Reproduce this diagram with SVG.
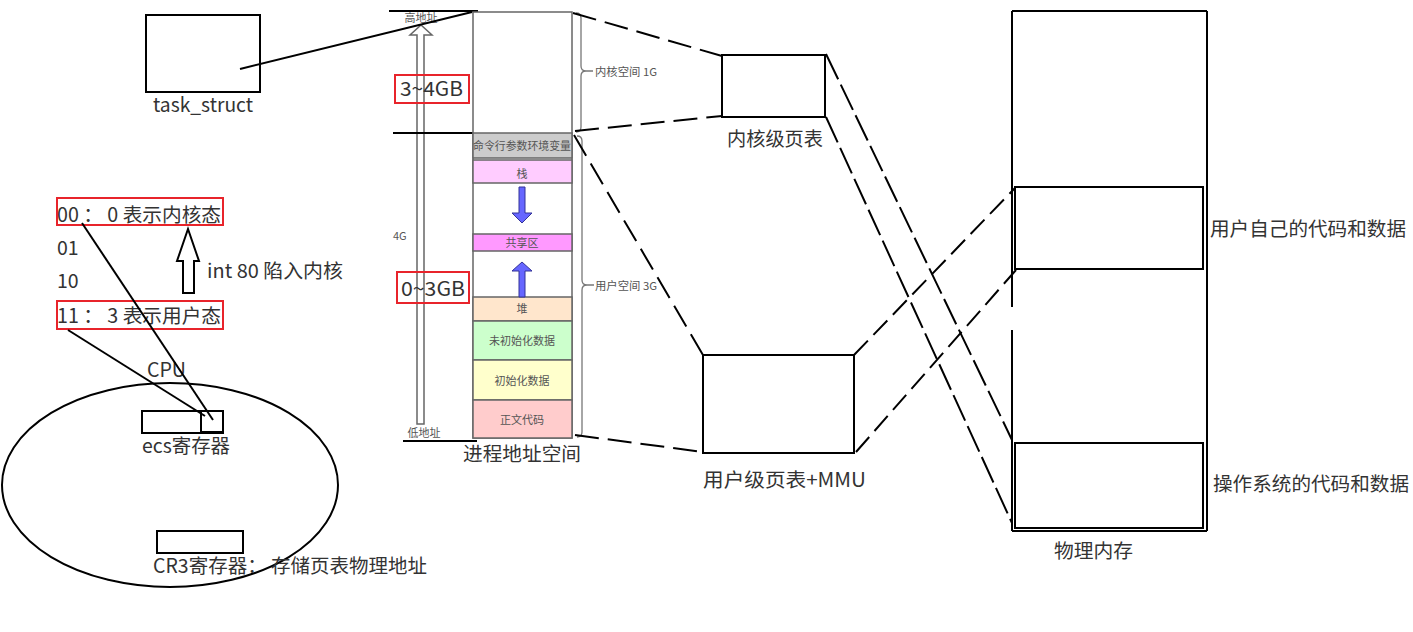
<svg xmlns="http://www.w3.org/2000/svg" width="1413" height="632" viewBox="0 0 1413 632">
<style>
.t{font-family:"Noto Sans CJK SC","Liberation Sans",sans-serif;fill:#333}
.big{font-size:19.5px}
.sm{font-size:11px;fill:#555}
.box{fill:#fff;stroke:#000;stroke-width:2}
.seg{stroke:#666;stroke-width:1.5}
.red{fill:none;stroke:#e8242b;stroke-width:2}
.ln{stroke:#000;stroke-width:2;fill:none}
.d1{stroke-dasharray:24 9}
.d2{stroke-dasharray:28 6}
.d3{stroke-dasharray:20 8}
.brace{fill:none;stroke:#777;stroke-width:1.3}
.blue{fill:#6666ff;stroke:#333399;stroke-width:1}
.hollow{fill:#fff;stroke:#000;stroke-width:2}
</style>
<rect width="1413" height="632" fill="#fff"/>

<g id="task_struct">
<rect class="box" x="146" y="15" width="114" height="77"/>
<text class="t big" x="153" y="112" textLength="100" lengthAdjust="spacingAndGlyphs">task_struct</text>
</g>

<g id="mode-bits">
<rect class="red" x="57" y="198" width="166" height="27"/>
<text class="t big" x="57" y="222" textLength="164" lengthAdjust="spacingAndGlyphs">00 ： 0 表示内核态</text>
<text class="t big" x="57" y="255">01</text>
<text class="t big" x="57" y="288">10</text>
<rect class="red" x="57" y="301" width="166" height="28"/>
<text class="t big" x="57" y="323" textLength="164" lengthAdjust="spacingAndGlyphs">11 ： 3 表示用户态</text>
<path class="hollow" d="M183,293 V261 H177 L188,229 L199,261 H194 V293 Z"/>
<text class="t big" x="207" y="278" textLength="136" lengthAdjust="spacingAndGlyphs">int 80 陷入内核</text>
</g>

<g id="cpu">
<text class="t big" x="147" y="377" textLength="39" lengthAdjust="spacingAndGlyphs">CPU</text>
<ellipse cx="170" cy="485" rx="168" ry="102" fill="none" stroke="#000" stroke-width="2"/>
<rect class="box" x="142" y="411" width="81" height="22"/>
<rect class="box" x="201" y="411" width="22" height="21"/>
<text class="t big" x="142" y="453" textLength="88" lengthAdjust="spacingAndGlyphs">ecs寄存器</text>
<rect class="box" x="157" y="531" width="86" height="22"/>
<text class="t big" x="153" y="573" textLength="274" lengthAdjust="spacingAndGlyphs">CR3寄存器： 存储页表物理地址</text>
</g>

<g id="address-space">
<line x1="389" y1="11" x2="478" y2="11" stroke="#000" stroke-width="2"/>
<text class="t sm" x="421" y="22" text-anchor="middle">高地址</text>
<path d="M417,424 V35 H410 L421,25 L432,35 H424 V424 Z" fill="#fff" stroke="#666" stroke-width="1.5"/>
<line x1="393" y1="133" x2="474" y2="133" stroke="#000" stroke-width="2"/>
<line x1="403" y1="441" x2="477" y2="441" stroke="#000" stroke-width="2"/>
<text class="t sm" x="424" y="437" text-anchor="middle">低地址</text>
<text class="t sm" x="393" y="240">4G</text>
<rect class="red" x="395" y="75" width="74" height="28" fill="#fff"/>
<text class="t big" x="400" y="96" textLength="63" lengthAdjust="spacingAndGlyphs">3~4GB</text>
<rect class="red" x="397" y="272" width="72" height="31" fill="#fff"/>
<text class="t big" x="401" y="296" textLength="64" lengthAdjust="spacingAndGlyphs">0~3GB</text>

<rect x="473" y="12" width="99" height="426" fill="#fff" stroke="#666" stroke-width="1.5"/>
<rect class="seg" x="473" y="133" width="99" height="25" fill="#cccccc"/>
<rect class="seg" x="473" y="160" width="99" height="23" fill="#ffccff"/>
<rect class="seg" x="473" y="234" width="99" height="17" fill="#ff99ff"/>
<rect class="seg" x="473" y="297" width="99" height="24" fill="#ffe6cc"/>
<rect class="seg" x="473" y="321" width="99" height="39" fill="#ccffcc"/>
<rect class="seg" x="473" y="360" width="99" height="40" fill="#ffffcc"/>
<rect class="seg" x="473" y="400" width="99" height="38" fill="#ffcccc"/>
<text class="t sm" x="522" y="150" text-anchor="middle" textLength="98" lengthAdjust="spacingAndGlyphs">命令行参数环境变量</text>
<text class="t sm" x="522" y="178" text-anchor="middle">栈</text>
<text class="t sm" x="522" y="247" text-anchor="middle">共享区</text>
<text class="t sm" x="522" y="313" text-anchor="middle">堆</text>
<text class="t sm" x="522" y="345" text-anchor="middle">未初始化数据</text>
<text class="t sm" x="522" y="385" text-anchor="middle">初始化数据</text>
<text class="t sm" x="522" y="424" text-anchor="middle">正文代码</text>
<path class="blue" d="M519,187 H525 V213 H532 L522,223 L512,213 H519 Z"/>
<path class="blue" d="M519,297 H525 V271 H532 L522,262 L512,271 H519 Z"/>
<path class="brace" d="M576,13 Q581,13 581,18 V66 Q581,71 586,71 Q581,71 581,76 V127 Q581,132 576,132 M586,71 H593"/>
<text class="t sm" x="595" y="76" textLength="62" lengthAdjust="spacingAndGlyphs">内核空间 1G</text>
<path class="brace" d="M577,136 Q582,136 582,141 V280 Q582,285 587,285 Q582,285 582,290 V432 Q582,437 577,437 M587,285 H594"/>
<text class="t sm" x="595" y="290" textLength="62" lengthAdjust="spacingAndGlyphs">用户空间 3G</text>
<text class="t big" x="463" y="461" textLength="118" lengthAdjust="spacingAndGlyphs">进程地址空间</text>
</g>

<g id="kernel-page-table">
<rect class="box" x="722" y="55" width="103" height="62"/>
<text class="t big" x="727" y="146" textLength="96" lengthAdjust="spacingAndGlyphs">内核级页表</text>
</g>

<g id="user-page-table">
<rect class="box" x="703" y="355" width="151" height="98"/>
<text class="t big" x="703" y="487" textLength="163" lengthAdjust="spacingAndGlyphs">用户级页表+MMU</text>
</g>

<g id="physical-memory">
<line x1="1012" y1="11" x2="1207" y2="11" stroke="#000" stroke-width="2"/>
<line x1="1207" y1="11" x2="1207" y2="531" stroke="#000" stroke-width="2"/>
<line x1="1012" y1="531" x2="1207" y2="531" stroke="#000" stroke-width="2"/>
<line x1="1012" y1="11" x2="1012" y2="307" stroke="#000" stroke-width="2"/>
<line x1="1012" y1="330" x2="1012" y2="531" stroke="#000" stroke-width="2"/>
<rect class="box" x="1015" y="187" width="188" height="82"/>
<rect class="box" x="1015" y="443" width="188" height="85"/>
<text class="t big" x="1210" y="236" textLength="196" lengthAdjust="spacingAndGlyphs">用户自己的代码和数据</text>
<text class="t big" x="1213" y="491" textLength="196" lengthAdjust="spacingAndGlyphs">操作系统的代码和数据</text>
<text class="t big" x="1054" y="558" textLength="79" lengthAdjust="spacingAndGlyphs">物理内存</text>
</g>

<g id="connectors">
<line class="ln" x1="240" y1="69" x2="472" y2="12"/>
<line class="ln" x1="82" y1="223" x2="213" y2="420" stroke-width="1.8"/>
<line class="ln" x1="68" y1="330" x2="205" y2="416" stroke-width="1.8"/>
<line class="ln d1" x1="573" y1="13" x2="722" y2="56"/>
<line class="ln d1" x1="575" y1="131" x2="722" y2="116"/>
<line class="ln d1" x1="574" y1="135" x2="703" y2="355"/>
<line class="ln d1" x1="575" y1="435" x2="703" y2="452"/>
<line class="ln d2" x1="826" y1="54" x2="1012" y2="440"/>
<line class="ln d2" x1="826" y1="117" x2="1012" y2="523"/>
<line class="ln d3" x1="854" y1="355" x2="1015" y2="188"/>
<line class="ln d3" x1="856" y1="452" x2="1016" y2="270"/>
</g>
</svg>
